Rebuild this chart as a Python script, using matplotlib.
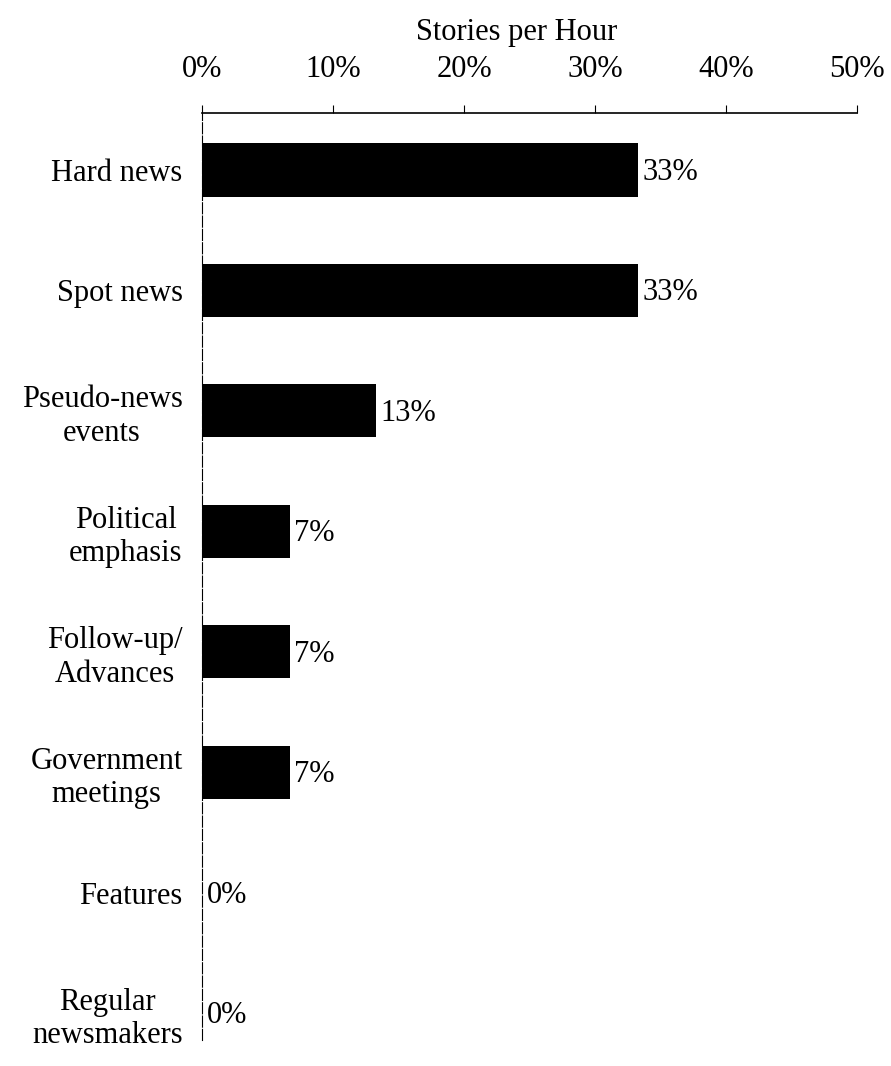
import matplotlib
matplotlib.use("Agg")
import matplotlib.pyplot as plt
import numpy as np

categories = ["Hard news", "Spot news", "Pseudo-news\nevents", "Political\nemphasis",
              "Follow-up/\nAdvances", "Government\nmeetings", "Features", "Regular\nnewsmakers"]
values = [33.3, 33.3, 13.3, 6.7, 6.7, 6.7, 0.0, 0.0]
value_labels = ["33%", "33%", "13%", "7%", "7%", "7%", "0%", "0%"]
xticks = [0, 10, 20, 30, 40, 50]
xtick_labels = ["0%", "10%", "20%", "30%", "40%", "50%"]

plt.rcParams['font.family'] = ['Liberation Serif', 'DejaVu Serif']
fs = 22

fig = plt.figure(figsize=(8.91, 10.66), dpi=100)
ax = fig.add_axes([0.2267, 0.0244, 0.7351, 0.8696])

y = np.arange(len(categories))
ax.barh(y, values, height=0.44, color="black")

for yi, v, lab in zip(y, values, value_labels):
    ax.text(v + 0.35, yi + 0.02, lab, va="center", ha="left", fontsize=fs)

ax.set_xlim(0, 50)
ax.set_ylim(7.22, -0.473)

ax.xaxis.tick_top()
ax.xaxis.set_label_position("top")
ax.set_xticks(xticks)
ax.set_xticklabels(xtick_labels)
ax.tick_params(axis="x", direction="out", length=6, width=0.8, pad=15, labelsize=fs)
ax.set_xlabel("Stories per Hour", fontsize=fs, labelpad=10.5)
ax.xaxis.label.set_x(0.481)

ax.set_yticks(y)
ax.set_yticklabels(categories, fontsize=fs, multialignment="center", linespacing=1.2)
ax.tick_params(axis="y", length=0, pad=14)

for s in ["right", "bottom"]:
    ax.spines[s].set_visible(False)
ax.spines["top"].set_linewidth(1.2)
ax.spines["left"].set_linewidth(0.8)
ax.spines["left"].set_linestyle((0, (10, 2)))

fig.savefig("out.png", dpi=100)
